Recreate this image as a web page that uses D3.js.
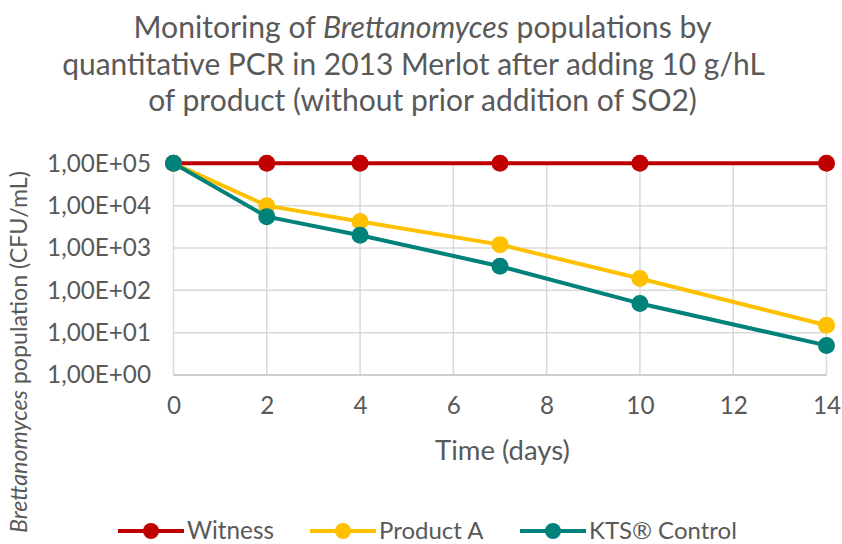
<!DOCTYPE html>
<html><head><meta charset="utf-8">
<script src="https://cdn.jsdelivr.net/npm/d3@7/dist/d3.min.js"></script>
<style>body{margin:0;background:#fff}svg{display:block}text{font-family:Lato,"Open Sans",sans-serif;fill:#595959}</style>
</head><body><svg id="c" width="842" height="544"></svg>
<script>
const days = [0, 2, 4, 7, 10, 14];
const witness = [1e5, 1e5, 1e5, 1e5, 1e5, 1e5];
const productA = [1e5, 1.0e4, 4.2e3, 1.2e3, 1.9e2, 15];
const ktsControl = [1e5, 5.5e3, 2.0e3, 3.7e2, 49, 5];
const seriesNames = ["Witness", "Product A", "KTS® Control"];
const seriesColors = ["#C00000", "#FFC000", "#00827A"];
const xTicks = [0, 2, 4, 6, 8, 10, 12, 14];
const yTicks = [1, 10, 100, 1000, 10000, 100000];
const yTickLabels = ["1,00E+00", "1,00E+01", "1,00E+02", "1,00E+03", "1,00E+04", "1,00E+05"];

const svg = d3.select("#c");
const x = d3.scaleLinear().domain([0, 14]).range([173.5, 826.5]);
const y = d3.scaleLog().domain([1, 1e5]).range([375, 163.3]);

// scale a text's font-size so that its width equals target
function fit(sel, target) {
  const w = sel.node().getBBox().width;
  const fs = parseFloat(sel.attr("font-size"));
  const nf = fs * target / w;
  sel.attr("font-size", nf);
  return nf;
}

// title
const tl1 = svg.append("text").attr("text-anchor", "middle").attr("font-size", 26).attr("x", 422.5).attr("y", 38);
tl1.append("tspan").text("Monitoring of ");
tl1.append("tspan").attr("font-style", "italic").text("Brettanomyces");
tl1.append("tspan").text(" populations by");
fit(tl1, 579);
const tl2 = svg.append("text").attr("text-anchor", "middle").attr("font-size", 26).attr("x", 413.5).attr("y", 75)
  .text("quantitative PCR in 2013 Merlot after adding 10 g/hL");
fit(tl2, 703);
const tl3 = svg.append("text").attr("text-anchor", "middle").attr("font-size", 26).attr("x", 422.5).attr("y", 111)
  .text("of product (without prior addition of SO2)");
fit(tl3, 549);

// grid
const g = svg.append("g");
g.selectAll(".hg").data(yTicks.slice(1)).join("line")
  .attr("x1", x(0)).attr("x2", x(14)).attr("y1", d => y(d)).attr("y2", d => y(d))
  .attr("stroke", "#d9d9d9").attr("stroke-width", 1.5);
g.selectAll(".vg").data(xTicks.slice(1)).join("line")
  .attr("x1", d => x(d)).attr("x2", d => x(d)).attr("y1", y(1)).attr("y2", y(1e5))
  .attr("stroke", "#d9d9d9").attr("stroke-width", 1.5);
g.append("line").attr("x1", x(0)).attr("x2", x(0)).attr("y1", y(1)).attr("y2", y(1e5))
  .attr("stroke", "#d9d9d9").attr("stroke-width", 1.5);
g.append("line").attr("x1", x(0)).attr("x2", x(14)).attr("y1", y(1)).attr("y2", y(1))
  .attr("stroke", "#bfbfbf").attr("stroke-width", 1.5);

// y axis
const yAxis = d3.axisLeft(y).tickValues(yTicks).tickFormat((d, i) => yTickLabels[i]).tickSize(0).tickPadding(22.5);
const ya = svg.append("g").attr("transform", `translate(${x(0)},0)`).call(yAxis);
ya.select(".domain").remove();
ya.selectAll("text").attr("font-size", 24).attr("font-family", null).attr("fill", "#595959");
const yfs = fit(ya.select(".tick:last-of-type text"), 104);
ya.selectAll("text").attr("font-size", yfs);

// x axis
const xAxis = d3.axisBottom(x).tickValues(xTicks).tickSize(0).tickPadding(22);
const xa = svg.append("g").attr("transform", `translate(0,${y(1)})`).call(xAxis);
xa.select(".domain").remove();
xa.selectAll("text").attr("font-size", yfs).attr("font-family", null).attr("fill", "#595959");

const xt = svg.append("text").attr("x", 502.5).attr("y", 460).attr("text-anchor", "middle").attr("font-size", 26).text("Time (days)");
fit(xt, 135);

const yl = svg.append("text").attr("transform", "translate(27,352) rotate(-90)").attr("text-anchor", "middle").attr("font-size", 22);
yl.append("tspan").attr("font-style", "italic").text("Brettanomyces");
yl.append("tspan").text(" population (CFU/mL)");
fit(yl, 362);

// series
const all = [witness, productA, ktsControl];
const line = d3.line().x((d, i) => x(days[i])).y(d => y(d));
all.forEach((s, k) => {
  svg.append("path").attr("d", line(s)).attr("fill", "none").attr("stroke", seriesColors[k])
    .attr("stroke-width", 4).attr("stroke-linejoin", "round");
});
all.forEach((s, k) => {
  svg.append("g").selectAll("circle").data(s).join("circle")
    .attr("cx", (d, i) => x(days[i])).attr("cy", d => y(d)).attr("r", 8.5).attr("fill", seriesColors[k]);
});

// legend
const legX = [118, 310, 520];
const legW = [87, 107, 188];
seriesNames.forEach((n, k) => {
  const lg = svg.append("g").attr("transform", `translate(${legX[k]},531)`);
  lg.append("line").attr("x1", 0).attr("x2", 66).attr("y1", 0).attr("y2", 0).attr("stroke", seriesColors[k]).attr("stroke-width", 4);
  lg.append("circle").attr("cx", 33).attr("cy", 0).attr("r", 8).attr("fill", seriesColors[k]);
  const t = lg.append("text").attr("x", 69).attr("y", 8).attr("font-size", 24).text(n);
  if (k === 0) fit(t, legW[0]);
});
</script></body></html>
